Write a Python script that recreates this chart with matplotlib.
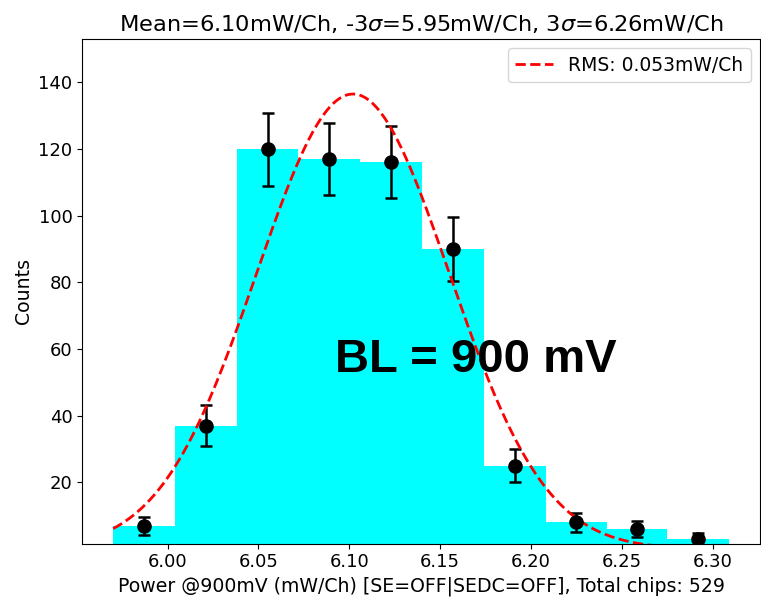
import numpy as np
import matplotlib.pyplot as plt

# histogram of chip power at BL = 900 mV
bin_edges = [5.970, 6.004, 6.038, 6.072, 6.106, 6.140, 6.174, 6.208, 6.242, 6.275, 6.309]
counts = [7, 37, 120, 117, 116, 90, 25, 8, 6, 3]

# gaussian fit parameters
fit_mean = 6.102
fit_rms = 0.053
fit_amp = 136.5

title_txt = r"Mean=6.10mW/Ch, -3$\sigma$=5.95mW/Ch, 3$\sigma$=6.26mW/Ch"
xlabel_txt = "Power @900mV (mW/Ch) [SE=OFF|SEDC=OFF], Total chips: 529"

plt.rcParams['font.size'] = 13

fig = plt.figure(figsize=(7.61, 6.05), dpi=100)
ax = fig.add_axes([0.1081, 0.1013, 0.8905, 0.8342])

edges = np.array(bin_edges)
cnt = np.array(counts)
centers = 0.5 * (edges[:-1] + edges[1:])

ax.hist(centers, bins=edges, weights=cnt, color='#00ffff')
ax.errorbar(centers, cnt, yerr=np.sqrt(cnt), fmt='o', color='black',
            markersize=9.5, elinewidth=1.8, capsize=4.5, capthick=1.8)

xs = np.linspace(edges[0], edges[-1], 300)
ys = fit_amp * np.exp(-0.5 * ((xs - fit_mean) / fit_rms) ** 2)
ax.plot(xs, ys, 'r--', linewidth=2, label=f"RMS: {fit_rms:.3f}mW/Ch")

ax.set_xlim(5.953, 6.326)
ax.set_ylim(1.6, 153)
ax.set_xticks([6.00, 6.05, 6.10, 6.15, 6.20, 6.25, 6.30])
ax.set_yticks([20, 40, 60, 80, 100, 120, 140])
ax.xaxis.set_major_formatter(plt.FormatStrFormatter('%.2f'))
ax.set_title(title_txt, fontsize=16.2)
ax.set_xlabel(xlabel_txt, fontsize=13.6)
ax.set_ylabel("Counts", fontsize=13.6)
ax.legend(loc='upper right', fontsize=13.5)

fig.text(335 / 761, 1 - 372 / 605, "BL = 900 mV", fontsize=34, fontweight='bold',
         family='Liberation Sans', va='baseline', ha='left')

fig.savefig("out.png", dpi=100)
